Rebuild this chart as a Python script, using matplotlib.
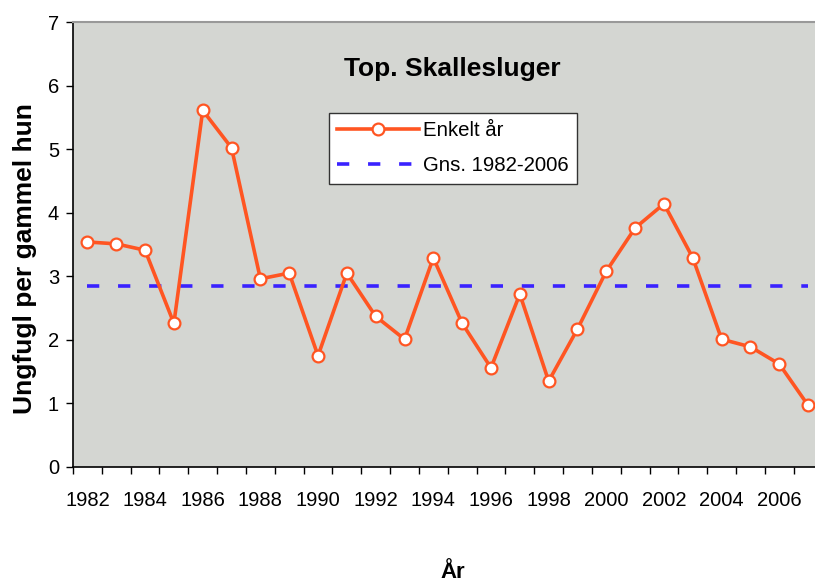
import matplotlib

matplotlib.use("Agg")
import matplotlib.pyplot as plt  # noqa: E402

plt.rcParams["font.family"] = ["Liberation Sans", "DejaVu Sans"]

years = list(range(1982, 2008))
values = [3.54, 3.51, 3.41, 2.26, 5.61, 5.02, 2.96, 3.05, 1.75, 3.05,
          2.37, 2.01, 3.29, 2.26, 1.56, 2.72, 1.35, 2.17, 3.08, 3.76,
          4.14, 3.29, 2.01, 1.89, 1.62, 0.97]
mean_value = 2.85
tick_labels = [str(y) for y in range(1982, 2008, 2)]

W, H = 815, 585
fig = plt.figure(figsize=(W / 100, H / 100), dpi=100)
left, right, top, bottom = 73, 822.5, 22, 467
ax = fig.add_axes([left / W, 1 - bottom / H, (right - left) / W, (bottom - top) / H])
ax.set_facecolor("#d4d6d2")

ax.plot(years, values, color="#ff5522", lw=2.6, marker="o", ms=8.5,
        mfc="white", mec="#ff5522", mew=1.6, label="Enkelt år", zorder=3)
ax.plot(years, [mean_value] * len(years), color="#3a22ff", lw=2.6,
        dashes=(3.4, 5.2), label="Gns. 1982-2006", zorder=2)

ax.set_xlim(1981.5, 2007.5)
ax.set_ylim(0, 7)
ax.set_yticks(range(0, 8))
ax.set_xticks([y - 0.5 for y in years], minor=False)
ax.set_xticklabels([])
ax.set_xticks(range(1982, 2008, 2), minor=True)
ax.set_xticklabels(tick_labels, minor=True)
ax.tick_params(axis="x", which="minor", length=0, pad=17, labelsize=14.5)
ax.tick_params(axis="x", which="major", length=5, width=1)
ax.tick_params(axis="y", length=5, width=1, labelsize=14.5, pad=5)

for side in ("left", "bottom"):
    ax.spines[side].set_color("black")
    ax.spines[side].set_linewidth(1.2)
ax.spines["top"].set_color("#999999")
ax.spines["top"].set_linewidth(1.5)
ax.spines["right"].set_visible(False)

fig.text(25 / W, 1 - 259 / H, "Ungfugl per gammel hun", rotation=90,
         ha="center", va="center", fontsize=19, fontweight="bold")
fig.text(453 / W, 1 - 583.5 / H, "År", ha="center", va="bottom",
         fontsize=16, fontweight="bold")
fig.text(452.5 / W, 1 - 76 / H, "Top. Skallesluger", ha="center", va="baseline",
         fontsize=19, fontweight="bold")

leg = ax.legend(loc="upper left",
                bbox_to_anchor=((329 - left) / (right - left), 1 - (113 - top) / (bottom - top)),
                fontsize=14.7, frameon=True, fancybox=False, framealpha=1,
                edgecolor="#333333", handlelength=4.0, borderpad=0.4,
                labelspacing=0.8, handletextpad=0.2, borderaxespad=0)
leg.get_frame().set_linewidth(1.0)

fig.savefig("out.png", dpi=100)
